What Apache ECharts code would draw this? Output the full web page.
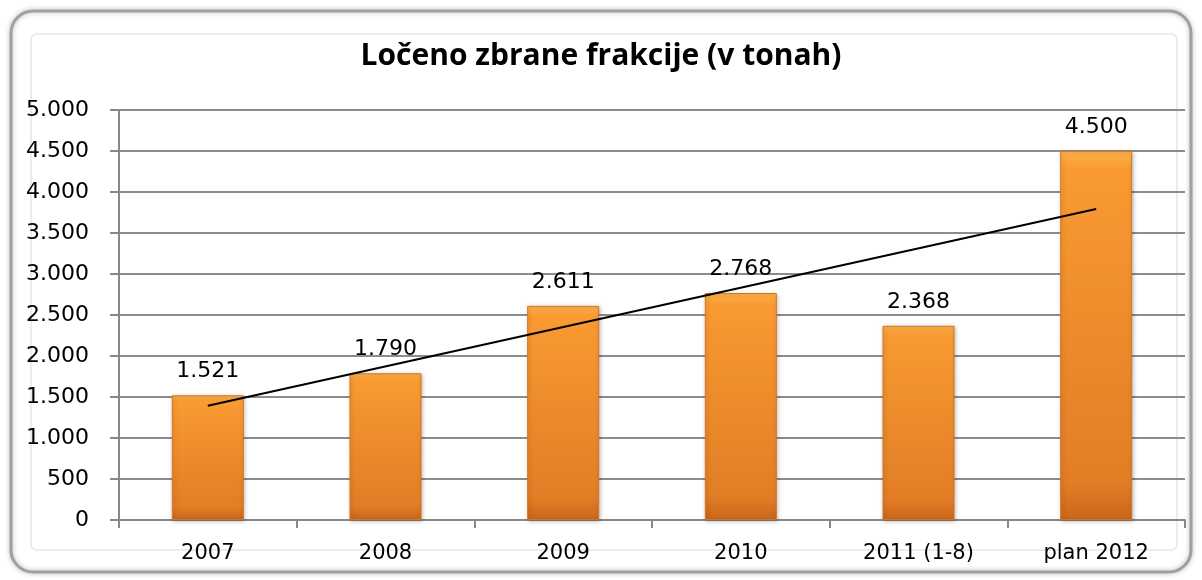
<!DOCTYPE html>
<html>
<head>
<meta charset="utf-8">
<script src="https://cdn.jsdelivr.net/npm/echarts@6/dist/echarts.min.js"></script>
<style>
html, body { margin: 0; padding: 0; background: #fff; }
#main { width: 1202px; height: 580px; }
</style>
</head>
<body>
<div id="main"></div>
<script>
var categories = ['2007', '2008', '2009', '2010', '2011 (1-8)', 'plan 2012'];
var tonnes = [1521, 1790, 2611, 2768, 2368, 4500];
// trend line: start at 2007, end at plan 2012
var trend = [1394, '-', '-', '-', '-', 3792];

function fmt(v) {
	return String(v).replace(/\B(?=(\d{3})+(?!\d))/g, '.');
}

var myChart = echarts.init(document.getElementById('main'));

var option = {
	backgroundColor: '#fff',
	animation: false,
	title: {
		text: 'Ločeno zbrane frakcije (v tonah)',
		left: 'center',
		top: 36,
		textStyle: {
			fontFamily: 'Open Sans',
			fontWeight: 'bold',
			fontSize: 30,
			color: '#000'
		}
	},
	grid: {
		left: 119,
		right: 17,
		top: 110,
		bottom: 60
	},
	xAxis: {
		type: 'category',
		data: categories,
		axisLine: { lineStyle: { color: '#888', width: 2 } },
		axisTick: { show: true, length: 8, lineStyle: { color: '#888', width: 2 } },
		axisLabel: {
			margin: 23,
			fontFamily: 'DejaVu Sans',
			fontSize: 21,
			color: '#000'
		}
	},
	yAxis: {
		type: 'value',
		min: 0,
		max: 5000,
		interval: 500,
		axisLine: { show: true, lineStyle: { color: '#888', width: 2 } },
		axisTick: { show: true, length: 9, lineStyle: { color: '#888', width: 2 } },
		splitLine: { lineStyle: { color: '#8c8c8c', width: 2 } },
		axisLabel: {
			margin: 30,
			fontFamily: 'DejaVu Sans',
			fontSize: 22,
			color: '#000',
			formatter: fmt
		}
	},
	series: [{
			type: 'bar',
			data: tonnes,
			barWidth: 72,
			itemStyle: {
				color: new echarts.graphic.LinearGradient(0, 0, 0, 1, [
					{ offset: 0, color: '#fdb24a' },
					{ offset: 0.05, color: '#f99a32' },
					{ offset: 0.9, color: '#e27d26' },
					{ offset: 1, color: '#c9661b' }
				]),
				borderColor: '#d77520',
				borderWidth: 1,
				shadowColor: 'rgba(0,0,0,0.25)',
				shadowBlur: 4,
				shadowOffsetX: 1,
				shadowOffsetY: 1
			},
			label: {
				show: true,
				position: 'top',
				distance: 13,
				fontFamily: 'DejaVu Sans',
				fontSize: 22,
				color: '#000',
				formatter: function (p) { return fmt(p.value); }
			}
		},
		{
			type: 'line',
			data: trend,
			connectNulls: true,
			showSymbol: false,
			symbol: 'none',
			lineStyle: { color: '#000', width: 2 },
			z: 5
		}
	],
	graphic: [{
			type: 'rect',
			shape: { x: 11, y: 11, width: 1180, height: 561, r: 22 },
			style: {
				fill: 'none',
				stroke: '#a0a0a0',
				lineWidth: 3,
				shadowColor: 'rgba(0,0,0,0.3)',
				shadowBlur: 5
			},
			silent: true
		},
		{
			type: 'rect',
			shape: { x: 31, y: 34, width: 1146, height: 516, r: 6 },
			style: { fill: 'none', stroke: '#e6e6e6', lineWidth: 1.5 },
			silent: true
		}
	]
};

myChart.setOption(option);
</script>
</body>
</html>
